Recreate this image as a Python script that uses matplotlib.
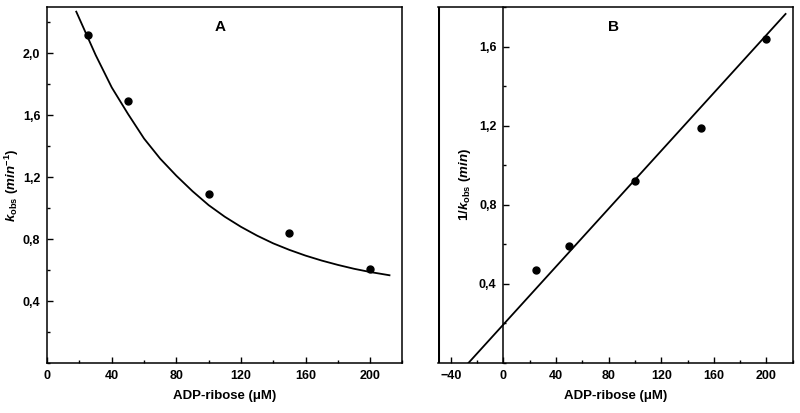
import numpy as np
import matplotlib.pyplot as plt
from matplotlib.ticker import MultipleLocator

plt.rcParams['font.family'] = ['Liberation Sans', 'DejaVu Sans']
plt.rcParams['font.weight'] = 'bold'
plt.rcParams['mathtext.fontset'] = 'custom'
plt.rcParams['mathtext.rm'] = 'Liberation Sans'
plt.rcParams['mathtext.it'] = 'Liberation Sans:italic:bold'
plt.rcParams['mathtext.bf'] = 'Liberation Sans:bold'

# Panel A: k_obs vs ADP-ribose
adp = [25, 50, 100, 150, 200]
kobs = [2.12, 1.69, 1.09, 0.84, 0.61]

# fitted decay curve
curve_x = [18, 30, 40, 50, 60, 70, 80, 90, 100, 110, 120, 130, 140, 150,
           160, 170, 180, 190, 200, 212]
curve_y = [2.27, 1.99, 1.78, 1.61, 1.45, 1.32, 1.21, 1.11, 1.02, 0.945,
           0.88, 0.823, 0.773, 0.731, 0.694, 0.662, 0.634, 0.609, 0.588, 0.567]

# Panel B: 1/k_obs vs ADP-ribose
inv_kobs = [0.47, 0.59, 0.92, 1.19, 1.64]
line_x = [-26.6, 214.5]
line_y = [0.0, 1.765]

xticks_a = [0, 40, 80, 120, 160, 200]
yticks_a = [0.4, 0.8, 1.2, 1.6, 2.0]
yticklabels_a = ['0,4', '0,8', '1,2', '1,6', '2,0']
xticks_b = [-40, 0, 40, 80, 120, 160, 200]
yticks_b = [0.4, 0.8, 1.2, 1.6]
yticklabels_b = ['0,4', '0,8', '1,2', '1,6']

fig = plt.figure(figsize=(8, 4.13), dpi=100)
axA = fig.add_axes([0.059, 0.121, 0.444, 0.862])
axB = fig.add_axes([0.547, 0.121, 0.444, 0.862])

for ax in (axA, axB):
    for s in ax.spines.values():
        s.set_linewidth(1.1)
    ax.tick_params(which='both', direction='in', top=False, right=False,
                   labelsize=9, width=1.0)
    ax.tick_params(which='major', length=4, pad=5)
    ax.tick_params(which='minor', length=2.5)
    ax.xaxis.set_minor_locator(MultipleLocator(20))
    ax.yaxis.set_minor_locator(MultipleLocator(0.2))
    ax.set_xlabel('ADP-ribose (μM)', fontsize=9.5, fontweight='bold', labelpad=6)

# A
axA.plot(curve_x, curve_y, color='black', lw=1.3)
axA.plot(adp, kobs, 'o', color='black', ms=5)
axA.set_xlim(0, 220)
axA.set_ylim(0, 2.3)
axA.set_xticks(xticks_a)
axA.set_yticks(yticks_a)
axA.set_yticklabels(yticklabels_a)
axA.set_ylabel(r'$k_{\mathrm{obs}}\ (min^{-1})$', fontsize=9.5)
axA.yaxis.set_label_coords(-0.074, 0.5)
axA.text(0.487, 0.944, 'A', transform=axA.transAxes, ha='center', va='center',
         fontsize=11, fontweight='bold')

# B
axB.plot(line_x, line_y, color='black', lw=1.3)
axB.plot(adp, inv_kobs, 'o', color='black', ms=5)
axB.set_xlim(-50, 220)
axB.set_ylim(0, 1.8)
axB.spines['left'].set_position(('data', 0))
axB.axvline(-50, color='black', lw=2.2)
axB.set_xticks(xticks_b)
axB.set_yticks(yticks_b)
axB.set_yticklabels(yticklabels_b)
axB.set_ylabel(r'$\mathit{1/}k_{\mathrm{obs}}\ (min)$', fontsize=9.5, labelpad=4)
axB.text(0.496, 0.945, 'B', transform=axB.transAxes, ha='center', va='center',
         fontsize=11, fontweight='bold')

fig.savefig('out.png', dpi=100)
